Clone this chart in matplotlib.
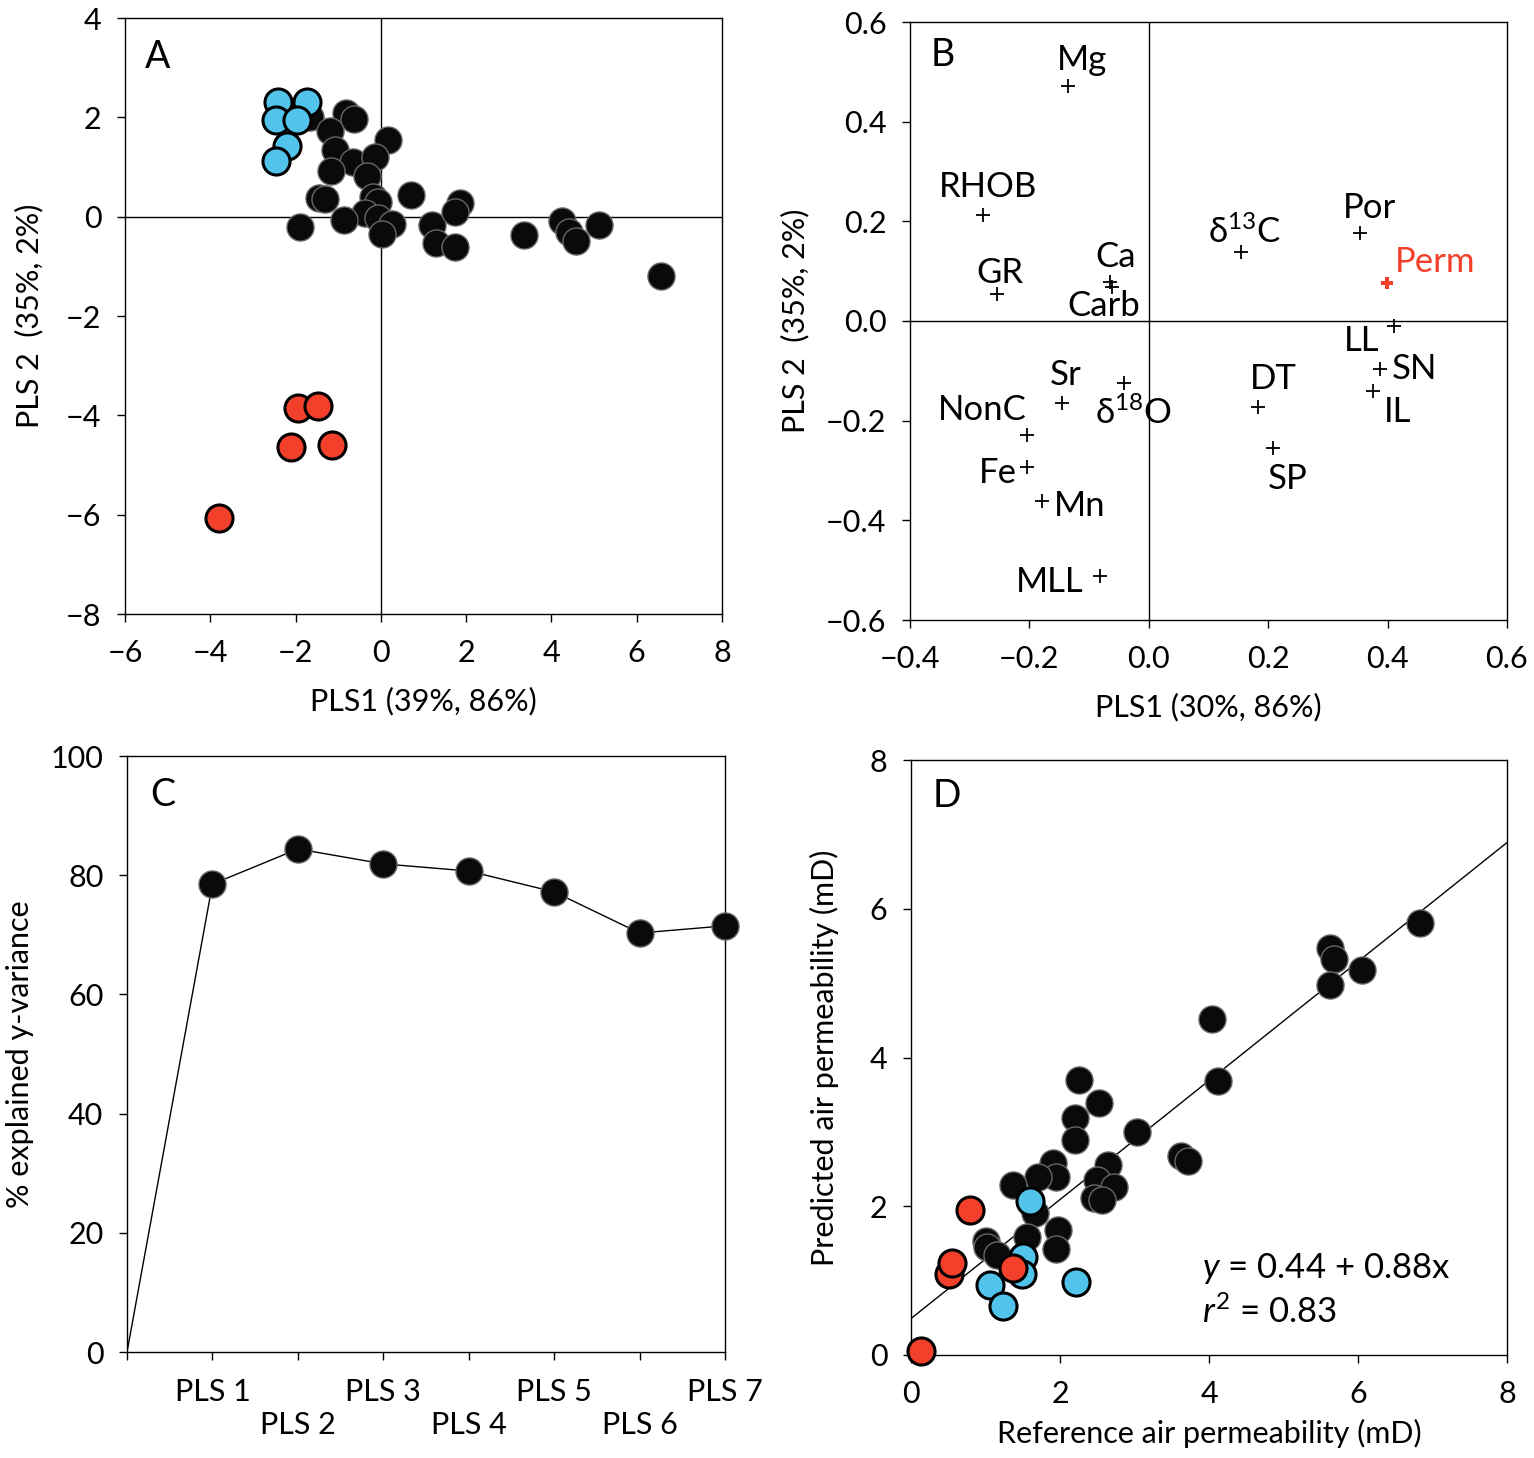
import numpy as np
import matplotlib
matplotlib.use("Agg")
from matplotlib import pyplot as plt

plt.rcParams['font.family'] = ['Lato', 'DejaVu Sans']
plt.rcParams['mathtext.fontset'] = 'custom'
plt.rcParams['mathtext.rm'] = 'Lato'
plt.rcParams['mathtext.it'] = 'Lato:italic'

# ---- panel A : PLS scores ----
a_black_x = [-1.67, -0.82, -0.63, -1.20, -1.08, 0.16, -0.66, -0.14, -1.17, -0.33,
             -1.45, -1.30, -0.19, -0.07, 0.70, -0.38, -0.07, 0.26, 0.02, -0.87,
             -1.90, 1.20, 1.29, 1.74, 1.85, 1.74, 3.36, 4.25, 4.41, 4.58, 5.12, 6.57]
a_black_y = [2.00, 2.08, 1.96, 1.72, 1.35, 1.54, 1.11, 1.21, 0.91, 0.81,
             0.38, 0.36, 0.40, 0.30, 0.44, 0.08, -0.02, -0.14, -0.34, -0.06,
             -0.20, -0.16, -0.53, -0.61, 0.28, 0.10, -0.36, -0.08, -0.30, -0.48, -0.16, -1.19]
a_blue_x = [-2.42, -1.74, -2.46, -1.97, -2.21, -2.46]
a_blue_y = [2.30, 2.30, 1.94, 1.94, 1.43, 1.13]
a_red_x = [-1.95, -1.48, -2.11, -1.15, -3.80]
a_red_y = [-3.86, -3.82, -4.63, -4.59, -6.06]

# ---- panel B : loadings ----
b_names = ['Mg', 'RHOB', 'GR', 'Ca', 'Carb', r'δ$^{13}$C', 'Por', 'LL', 'SN', 'IL',
           'DT', 'SP', 'Sr', r'δ$^{18}$O', 'NonC', 'Fe', 'Mn', 'MLL']
b_x = [-0.136, -0.278, -0.255, -0.065, -0.062, 0.154, 0.353, 0.410, 0.387, 0.375,
       0.183, 0.208, -0.146, -0.042, -0.204, -0.204, -0.179, -0.082]
b_y = [0.471, 0.212, 0.055, 0.078, 0.068, 0.139, 0.176, -0.010, -0.096, -0.141,
       -0.173, -0.255, -0.165, -0.124, -0.229, -0.292, -0.361, -0.512]
b_label_off = [(14, 26), (5, 28), (3, 21), (6, 25), (-8, -19), (4, 20), (10, 25),
               (-32, -15), (35, 0), (25, -21), (15, 28), (15, -31), (4, 28),
               (10, -30), (-45, 25), (-29, -6), (38, -5), (-50, -6)]
perm_x, perm_y = 0.399, 0.076

# ---- panel C : explained y-variance ----
c_comp = [0, 1, 2, 3, 4, 5, 6, 7]
c_var = [0, 78.5, 84.4, 81.9, 80.7, 77.2, 70.3, 71.5]
c_labels = ['', 'PLS 1', '\nPLS 2', 'PLS 3', '\nPLS 4', 'PLS 5', '\nPLS 6', 'PLS 7']

# ---- panel D : predicted vs reference ----
d_black_x = [2.25, 2.52, 2.20, 2.20, 3.04, 1.90, 1.94, 1.70, 1.37, 2.64, 2.50, 2.72,
             2.45, 2.57, 3.62, 3.72, 1.66, 1.97, 1.94, 1.56, 1.01, 1.02, 1.16,
             6.83, 5.62, 5.68, 6.05, 5.62, 4.04, 4.12]
d_black_y = [3.70, 3.39, 3.18, 2.89, 3.00, 2.58, 2.39, 2.39, 2.28, 2.55, 2.35, 2.26,
             2.11, 2.08, 2.67, 2.61, 1.91, 1.68, 1.42, 1.59, 1.53, 1.45, 1.34,
             5.81, 5.47, 5.32, 5.17, 4.97, 4.52, 3.68]
d_blue_x = [1.60, 1.51, 1.49, 1.06, 1.24, 2.21]
d_blue_y = [2.07, 1.32, 1.09, 0.94, 0.66, 0.98]
d_red_x = [0.79, 0.51, 0.55, 1.37, 0.13]
d_red_y = [1.95, 1.09, 1.24, 1.17, 0.05]
fit_intercept, fit_slope = 0.49, 0.80

BLUE = '#52c3ea'
RED = '#f2402a'
FS = 22

fig = plt.figure(figsize=(15.34, 14.58), dpi=100)
W, H = 1534.0, 1458.0


def add_ax(l, r, t, b):
    return fig.add_axes([l / W, 1 - b / H, (r - l) / W, (b - t) / H])


def style(ax):
    for s in ax.spines.values():
        s.set_linewidth(1.0)
    ax.tick_params(direction='out', length=6, width=1.0, labelsize=FS)
    ax.tick_params(axis='x', pad=12)
    ax.tick_params(axis='y', pad=11)


def dots(ax, x, y, fc, ec, lw):
    ax.scatter(x, y, s=380, facecolor=fc, edgecolor=ec, linewidth=lw, zorder=3, clip_on=False)


def pm(v, pos):
    # tick labels with a real minus sign
    return ('%.1f' % v).replace('-', '\u2212')


# A
axA = add_ax(125, 722, 18, 614)
style(axA)
axA.axhline(0, color='k', lw=1.0, zorder=1)
axA.axvline(0, color='k', lw=1.0, zorder=1)
dots(axA, a_black_x, a_black_y, '#0a0a0a', '#666666', 1.0)
dots(axA, a_blue_x, a_blue_y, BLUE, 'k', 2.2)
dots(axA, a_red_x, a_red_y, RED, 'k', 2.2)
axA.set_xlim(-6, 8)
axA.set_ylim(-8, 4)
axA.set_xticks(range(-6, 9, 2))
axA.set_yticks(range(-8, 5, 2))
axA.set_xlabel('PLS1 (39%, 86%)', fontsize=FS, labelpad=14)
axA.set_ylabel('PLS 2  (35%, 2%)', fontsize=FS, labelpad=16)
axA.text(0.055, 0.935, 'A', transform=axA.transAxes, fontsize=27, ha='center', va='center')

# B
axB = add_ax(910, 1507, 22, 620)
style(axB)
axB.axhline(0, color='k', lw=1.0, zorder=1)
axB.axvline(0, color='k', lw=1.0, zorder=1)
axB.plot(b_x, b_y, '+', color='k', markersize=10, mew=1.3, linestyle='none')
for name, x, y, off in zip(b_names, b_x, b_y, b_label_off):
    axB.annotate(name, (x, y), xytext=off, textcoords='offset pixels',
                 ha='center', va='center', fontsize=25)
axB.plot([perm_x], [perm_y], 'P', color=RED, markersize=9, mew=0)
axB.annotate('Perm', (perm_x, perm_y), xytext=(48, 21), textcoords='offset pixels',
             ha='center', va='center', fontsize=25, color=RED)
axB.set_xlim(-0.4, 0.6)
axB.set_ylim(-0.6, 0.6)
axB.set_xticks(np.round(np.arange(-0.4, 0.61, 0.2), 1))
axB.set_yticks(np.round(np.arange(-0.6, 0.61, 0.2), 1))
axB.xaxis.set_major_formatter(matplotlib.ticker.FuncFormatter(pm))
axB.yaxis.set_major_formatter(matplotlib.ticker.FuncFormatter(pm))
axB.set_xlabel('PLS1 (30%, 86%)', fontsize=FS, labelpad=14)
axB.set_ylabel('PLS 2  (35%, 2%)', fontsize=FS, labelpad=12)
axB.text(0.055, 0.945, 'B', transform=axB.transAxes, fontsize=27, ha='center', va='center')

# C
axC = add_ax(127, 725, 756, 1352)
style(axC)
axC.plot(c_comp, c_var, '-', color='k', lw=1.0, zorder=2)
dots(axC, c_comp[1:], c_var[1:], '#0a0a0a', '#666666', 1.0)
axC.set_xlim(0, 7)
axC.set_ylim(0, 100)
axC.set_xticks(c_comp)
axC.set_xticklabels(c_labels, fontsize=FS, linespacing=1.2)
axC.set_yticks(range(0, 101, 20))
axC.tick_params(axis='x', pad=13)
axC.set_ylabel('% explained y-variance', fontsize=FS, labelpad=12)
axC.text(0.06, 0.935, 'C', transform=axC.transAxes, fontsize=27, ha='center', va='center')

# D
axD = add_ax(911, 1507, 760, 1355)
style(axD)
fx = np.array([0, 8])
axD.plot(fx, fit_intercept + fit_slope * fx, '-', color='k', lw=1.0, zorder=2)
dots(axD, d_black_x, d_black_y, '#0a0a0a', '#666666', 1.0)
dots(axD, d_blue_x, d_blue_y, BLUE, 'k', 2.2)
dots(axD, d_red_x, d_red_y, RED, 'k', 2.2)
axD.set_xlim(0, 8)
axD.set_ylim(0, 8)
axD.set_xticks(range(0, 9, 2))
axD.set_yticks(range(0, 9, 2))
axD.set_xlabel('Reference air permeability (mD)', fontsize=FS, labelpad=8)
axD.set_ylabel('Predicted air permeability (mD)', fontsize=FS, labelpad=22)
axD.text(0.06, 0.94, 'D', transform=axD.transAxes, fontsize=27, ha='center', va='center')
axD.text(0.488, 0.145, r'$\it{y}$ = 0.44 + 0.88x', transform=axD.transAxes,
         fontsize=25, ha='left', va='center')
axD.text(0.488, 0.072, r'$\it{r}^2$ = 0.83', transform=axD.transAxes,
         fontsize=25, ha='left', va='center')

fig.savefig('out.png', dpi=100)
